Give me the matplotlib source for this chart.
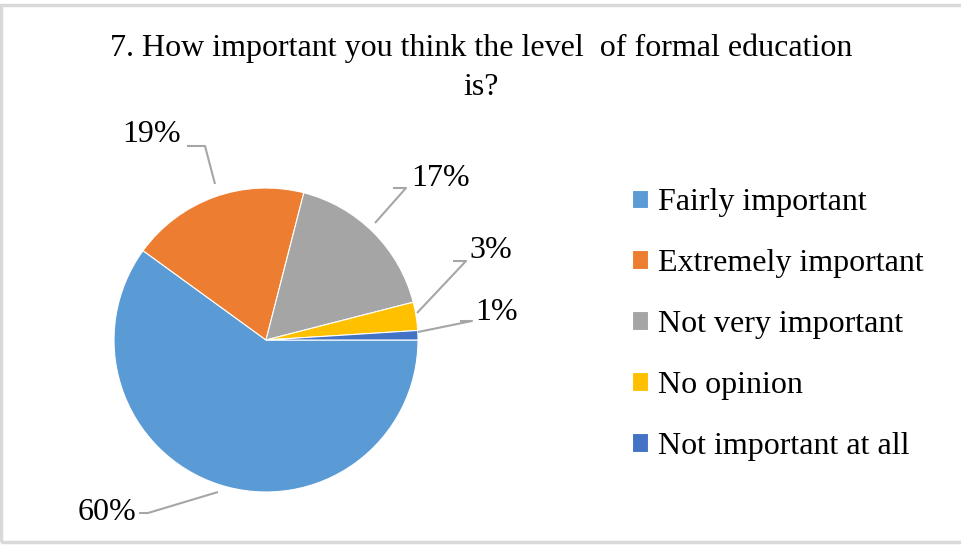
import matplotlib.pyplot as plt
from matplotlib.patches import Rectangle

categories = ['Fairly important', 'Extremely important', 'Not very important',
              'No opinion', 'Not important at all']
shares = [60, 19, 17, 3, 1]
colors = ['#5B9BD5', '#ED7D31', '#A5A5A5', '#FFC000', '#4472C4']
title = '7. How important you think the level  of formal education\nis?'

plt.rcParams['font.family'] = ['Liberation Serif', 'DejaVu Serif']

W, H = 961, 545
fig = plt.figure(figsize=(W / 100, H / 100), dpi=100)
ax = fig.add_axes([0, 0, 1, 1])

# light grey frame like the original screenshot
fig.patches.append(Rectangle((1 / W, 3 / H), 1.5, (H - 8) / H, transform=fig.transFigure,
                             fill=False, edgecolor='#D9D9D9', linewidth=2.5))

cx, cy, r = 266, H - 340, 152
wedges, _ = ax.pie(shares, colors=colors, startangle=0, counterclock=False,
                   center=(cx, cy), radius=r, frame=True,
                   wedgeprops=dict(edgecolor='white', linewidth=0.8))
ax.set_xlim(0, W)
ax.set_ylim(0, H)
ax.set_aspect('equal')
ax.axis('off')

# data labels with leader lines: (text x, text y, path points) in pixels from top
label_layout = [
    (107, 513, [(139, 513), (148, 513), (218, 492)]),
    (152, 135, [(187, 146), (205, 146), (215, 184)]),
    (441, 178, [(393, 188), (406, 188), (375, 223)]),
    (491, 250, [(453, 261), (466, 261), (417, 313)]),
    (497, 313, [(460, 321), (472, 321), (418, 332)]),
]
for val, (tx, ty, pts) in zip(shares, label_layout):
    ax.text(tx, H - ty, f'{val}%', ha='center', va='center', fontsize=23, color='#000000')
    ax.plot([p[0] for p in pts], [H - p[1] for p in pts], color='#A6A6A6', lw=1.5,
            solid_capstyle='butt')

ax.text(481, H - 68, title, ha='center', va='center', fontsize=23,
        linespacing=1.45, color='#000000')

leg = ax.legend(wedges, categories, loc='upper left', bbox_to_anchor=(616 / W, 1 - 172 / H),
                bbox_transform=fig.transFigure, frameon=False, fontsize=23,
                handlelength=0.5, handleheight=0.5, handletextpad=0.3,
                labelspacing=1.0, borderpad=0)

fig.savefig('out.png', dpi=100)
